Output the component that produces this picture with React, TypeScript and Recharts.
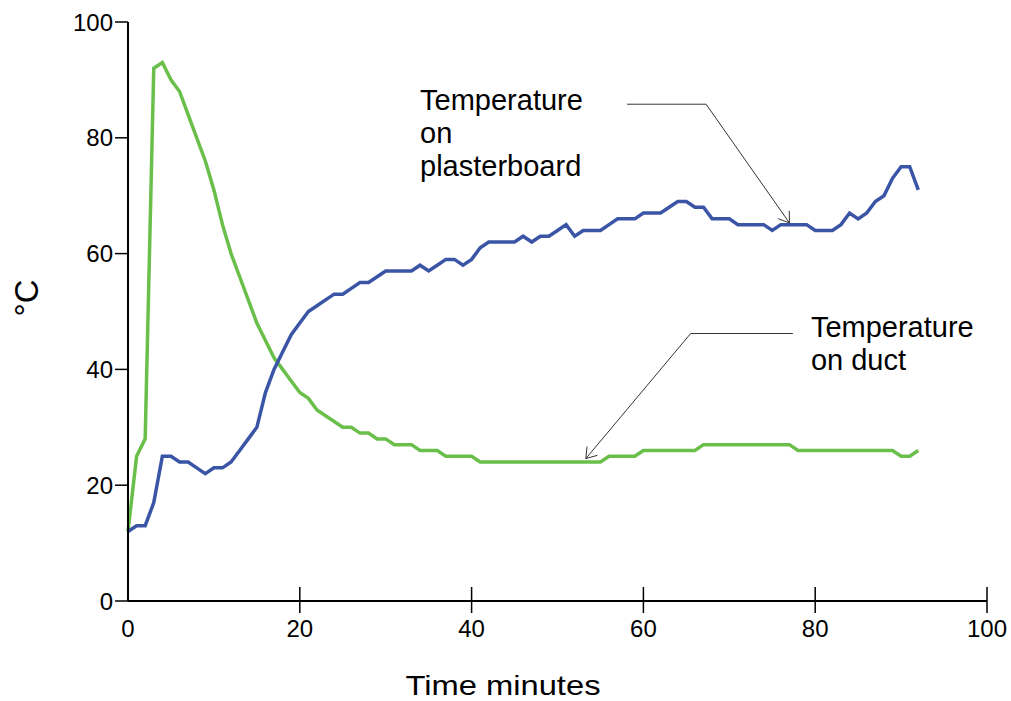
import React from "react";
import { LineChart, Line, XAxis, YAxis, ReferenceLine, ReferenceDot } from "recharts";

const minutes = [
  0, 1, 2, 3, 4, 5, 6, 7, 8, 9, 10, 11, 12, 13, 14, 15, 16, 17, 18, 19,
  20, 21, 22, 23, 24, 25, 26, 27, 28, 29, 30, 31, 32, 33, 34, 35, 36, 37, 38, 39,
  40, 41, 42, 43, 44, 45, 46, 47, 48, 49, 50, 51, 52, 53, 54, 55, 56, 57, 58, 59,
  60, 61, 62, 63, 64, 65, 66, 67, 68, 69, 70, 71, 72, 73, 74, 75, 76, 77, 78, 79,
  80, 81, 82, 83, 84, 85, 86, 87, 88, 89, 90, 91, 92,
];

const plasterboard = [
  12, 13, 13, 17, 25, 25, 24, 24, 23, 22, 23, 23, 24, 26, 28, 30, 36, 40, 43, 46,
  48, 50, 51, 52, 53, 53, 54, 55, 55, 56, 57, 57, 57, 57, 58, 57, 58, 59, 59, 58,
  59, 61, 62, 62, 62, 62, 63, 62, 63, 63, 64, 65, 63, 64, 64, 64, 65, 66, 66, 66,
  67, 67, 67, 68, 69, 69, 68, 68, 66, 66, 66, 65, 65, 65, 65, 64, 65, 65, 65, 65,
  64, 64, 64, 65, 67, 66, 67, 69, 70, 73, 75, 75, 71,
];

const duct = [
  12, 25, 28, 92, 93, 90, 88, 84, 80, 76, 71, 65, 60, 56, 52, 48, 45, 42, 40, 38,
  36, 35, 33, 32, 31, 30, 30, 29, 29, 28, 28, 27, 27, 27, 26, 26, 26, 25, 25, 25,
  25, 24, 24, 24, 24, 24, 24, 24, 24, 24, 24, 24, 24, 24, 24, 24, 25, 25, 25, 25,
  26, 26, 26, 26, 26, 26, 26, 27, 27, 27, 27, 27, 27, 27, 27, 27, 27, 27, 26, 26,
  26, 26, 26, 26, 26, 26, 26, 26, 26, 26, 25, 25, 26,
];

const xTicks = [0, 20, 40, 60, 80, 100];
const yTicks = [0, 20, 40, 60, 80, 100];

const data = minutes.map((t, i) => ({ t, plasterboard: plasterboard[i], duct: duct[i] }));

const FONT = '"Liberation Sans", Arial, Helvetica, sans-serif';

// x ticks cross the axis line, so draw them ourselves
function XTick(props: any) {
  const { x, y, payload } = props;
  const axisY = y - 19;
  return (
    <g>
      {payload.value !== 0 && (
        <line x1={x} x2={x} y1={axisY - 14} y2={axisY + 12} stroke="#000" strokeWidth={1.5} />
      )}
      <text x={x} y={y} dy="0.71em" textAnchor="middle" fontSize={24} fontFamily={FONT} fill="#000">
        {payload.value}
      </text>
    </g>
  );
}

function Arrow(props: any) {
  const { x1, y1, x2, y2 } = props;
  const ang = Math.atan2(y1 - y2, x1 - x2);
  const len = 12;
  const spread = 0.6;
  const ax = x2 + len * Math.cos(ang + spread);
  const ay = y2 + len * Math.sin(ang + spread);
  const bx = x2 + len * Math.cos(ang - spread);
  const by = y2 + len * Math.sin(ang - spread);
  return (
    <g>
      <line x1={x1} y1={y1} x2={x2} y2={y2} stroke="#333" strokeWidth={1} />
      <polyline points={`${ax},${ay} ${x2},${y2} ${bx},${by}`} fill="none" stroke="#333" strokeWidth={1} />
    </g>
  );
}

function note(lines: string[]) {
  return (p: any) => (
    <text x={p.cx} y={p.cy} fontSize={29} fontFamily={FONT} fill="#000">
      {lines.map((s, i) => (
        <tspan key={i} x={p.cx} dy={i === 0 ? 0 : 32.8}>
          {s}
        </tspan>
      ))}
    </text>
  );
}

export default function App() {
  return (
    <div style={{ position: "absolute", left: 0, top: 0, background: "#fff" }}>
      <LineChart width={1011} height={701} data={data} margin={{ top: 22, right: 24, bottom: 0, left: 0 }}>
        <XAxis
          dataKey="t"
          type="number"
          domain={[0, 100]}
          ticks={xTicks}
          height={100}
          axisLine={{ stroke: "#000", strokeWidth: 2 }}
          tickLine={false}
          tickSize={12}
          tickMargin={7}
          tick={<XTick />}
          label={{
            content: (p: any) => (
              <text
                x={p.viewBox.x + 375}
                y={p.viewBox.y + 94}
                textAnchor="middle"
                fontSize={28}
                fontFamily={FONT}
                fill="#000"
                textLength={195}
                lengthAdjust="spacingAndGlyphs"
              >
                Time minutes
              </text>
            ),
          }}
        />
        <YAxis
          type="number"
          domain={[0, 100]}
          ticks={yTicks}
          width={128}
          axisLine={{ stroke: "#000", strokeWidth: 2 }}
          tickLine={{ stroke: "#000", strokeWidth: 1.5 }}
          tickSize={13}
          tickMargin={2}
          tick={{ fill: "#000", fontSize: 24, fontFamily: FONT }}
          label={{
            content: (p: any) => {
              const cx = p.viewBox.x + 26;
              const cy = p.viewBox.y + 276;
              return (
                <text
                  x={cx}
                  y={cy}
                  transform={`rotate(-90, ${cx}, ${cy})`}
                  textAnchor="middle"
                  dominantBaseline="central"
                  fontSize={33}
                  fontFamily={FONT}
                  fill="#000"
                >
                  °C
                </text>
              );
            },
          }}
        />
        <Line
          type="linear"
          dataKey="duct"
          stroke="#6abf4b"
          strokeWidth={3.5}
          dot={false}
          activeDot={false}
          isAnimationActive={false}
        />
        <Line
          type="linear"
          dataKey="plasterboard"
          stroke="#3a55a5"
          strokeWidth={3.5}
          dot={false}
          activeDot={false}
          isAnimationActive={false}
        />
        <ReferenceLine segment={[{ x: 58.1, y: 85.8 }, { x: 67.3, y: 85.8 }]} stroke="#333" strokeWidth={1} />
        <ReferenceLine segment={[{ x: 67.3, y: 85.8 }, { x: 77, y: 65.3 }]} shape={<Arrow />} />
        <ReferenceLine segment={[{ x: 77.4, y: 46.2 }, { x: 65.5, y: 46.2 }]} stroke="#333" strokeWidth={1} />
        <ReferenceLine segment={[{ x: 65.5, y: 46.2 }, { x: 53.3, y: 24.6 }]} shape={<Arrow />} />
        <ReferenceDot x={34} y={84.8} r={0} shape={note(["Temperature", "on", "plasterboard"])} />
        <ReferenceDot x={79.5} y={45.6} r={0} shape={note(["Temperature", "on duct"])} />
      </LineChart>
    </div>
  );
}
